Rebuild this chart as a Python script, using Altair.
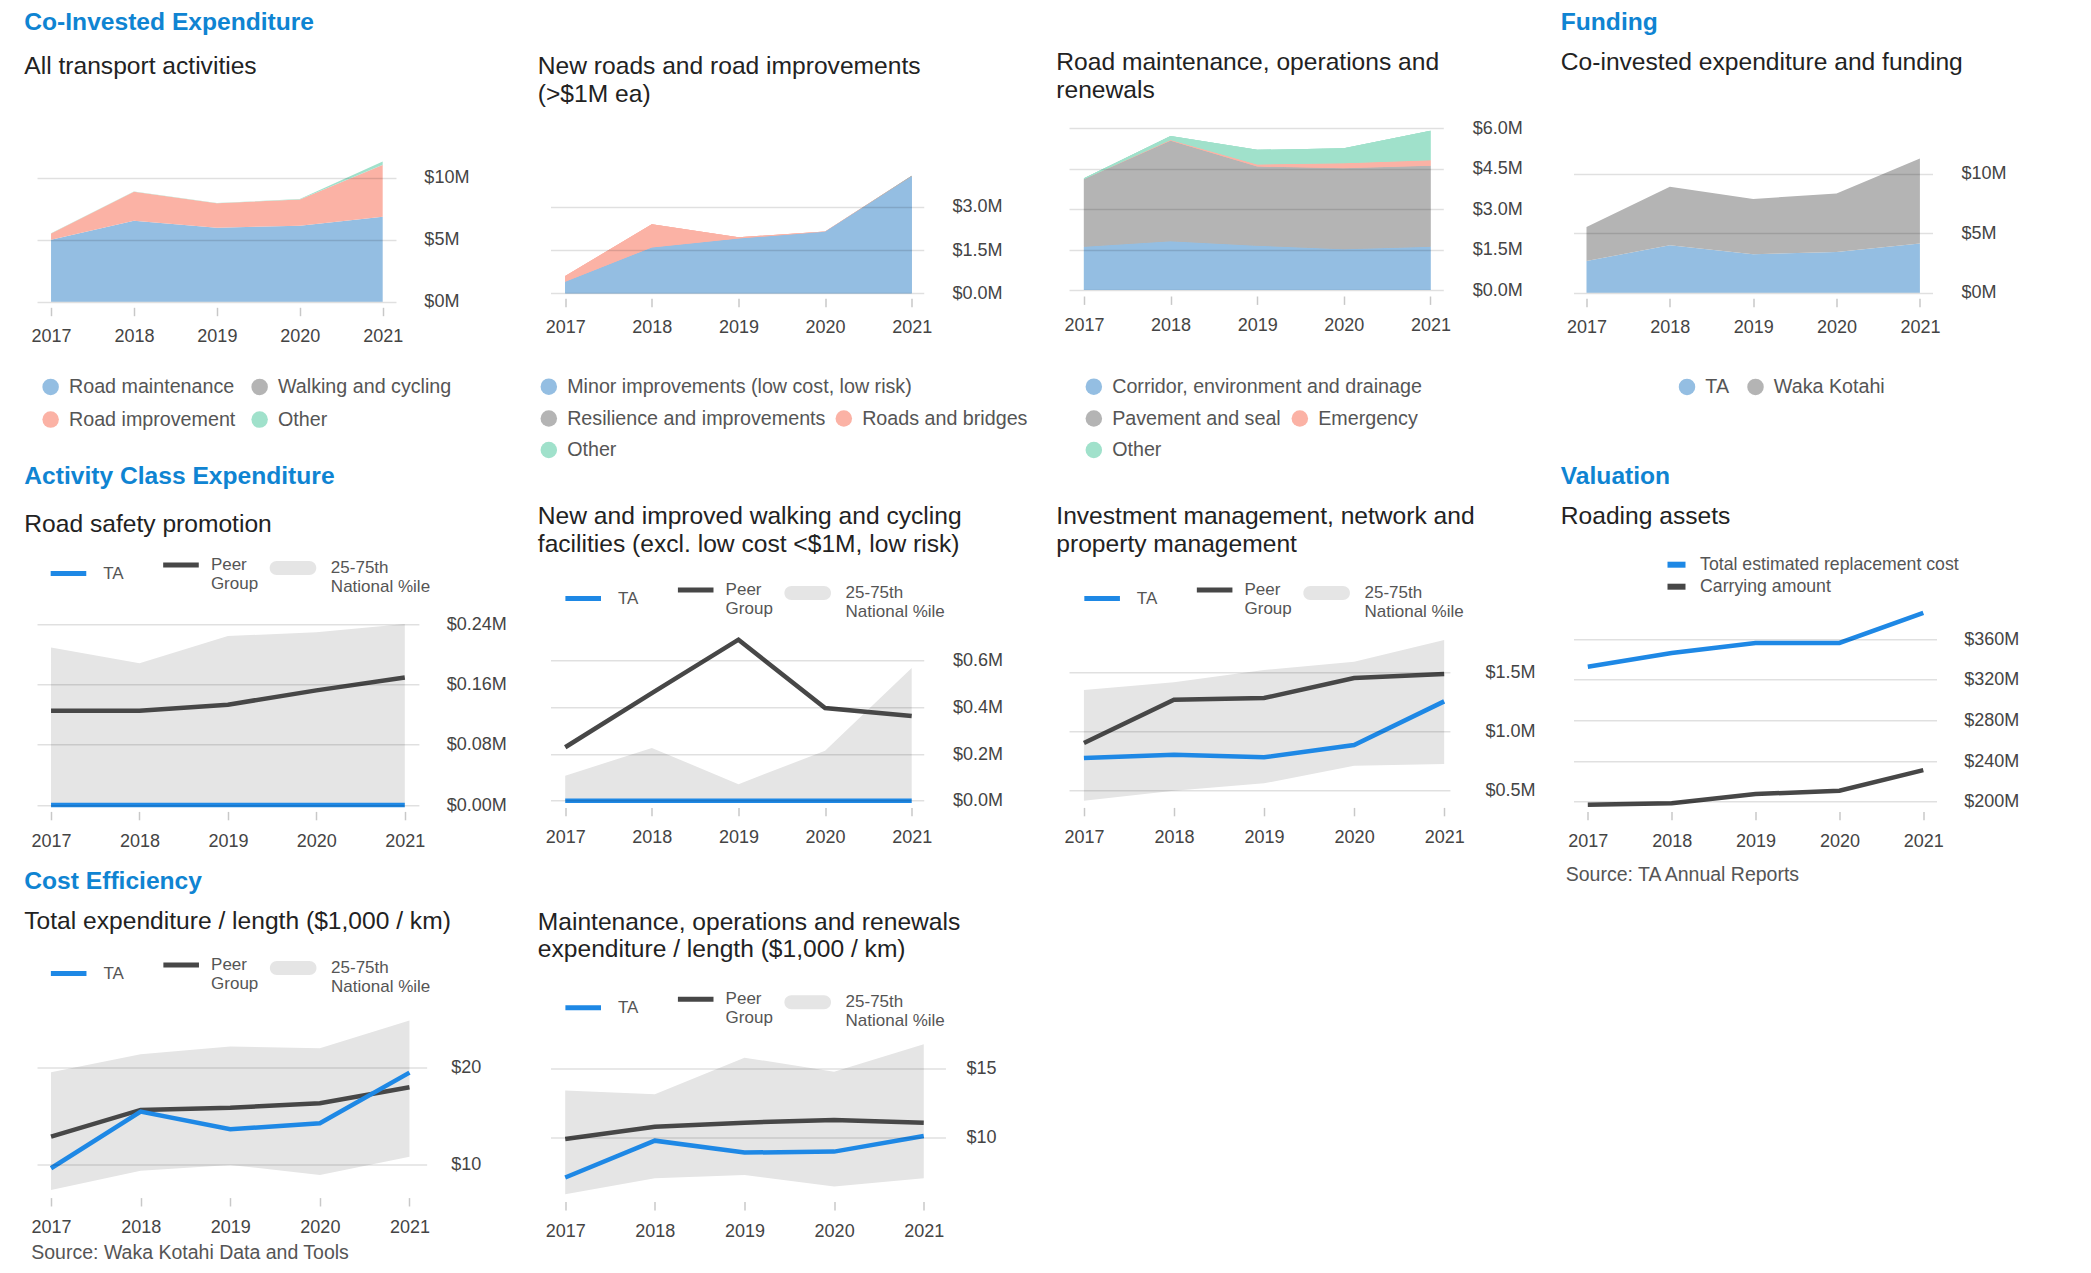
import math
import altair as alt
import pandas as pd

FONT = "Liberation Sans"
HEADER_BLUE = "#0f84d2"
TITLE_COLOR = "#222222"
TEXT_COLOR = "#444444"
LEGEND_TEXT = "#555555"
AREA_BLUE = "#94bee2"
AREA_SALMON = "#fbb2a5"
AREA_GRAY = "#b4b4b4"
AREA_TEAL = "#a0e1cb"
TA_BLUE = "#1e88e5"
PEER_GRAY = "#474747"
BAND_GRAY = "#e5e5e5"
PILL = "M-0.7,-0.3L0.7,-0.3A0.3,0.3,0,0,1,0.7,0.3L-0.7,0.3A0.3,0.3,0,0,1,-0.7,-0.3Z"

years = [2017, 2018, 2019, 2020, 2021]

# ---------------- data ($M unless noted) ----------------
# Co-Invested Expenditure: All transport activities
all_road_maintenance = [5.00, 6.53, 5.97, 6.13, 6.85]
all_road_improvement = [0.51, 2.34, 1.96, 2.12, 4.17]
all_walking_cycling = [0.0, 0.0, 0.0, 0.0, 0.02]
all_other = [0.01, 0.02, 0.02, 0.04, 0.27]

# New roads and road improvements (>$1M ea)
nr_minor = [0.40, 1.59, 1.90, 2.13, 4.05]
nr_resilience = [0.0, 0.0, 0.0, 0.0, 0.02]
nr_roads_bridges = [0.20, 0.80, 0.04, 0.01, 0.0]
nr_other = [0.0, 0.0, 0.0, 0.0, 0.0]

# Road maintenance, operations and renewals
rm_corridor = [1.60, 1.81, 1.64, 1.51, 1.60]
rm_pavement = [2.50, 3.72, 2.93, 3.00, 3.00]
rm_emergency = [0.00, 0.03, 0.08, 0.18, 0.21]
rm_other = [0.04, 0.14, 0.54, 0.56, 1.09]

# Funding
fund_ta = [2.66, 3.98, 3.22, 3.42, 4.12]
fund_waka = [2.86, 4.90, 4.65, 4.90, 7.14]

# Road safety promotion
rs_ta = [0.0, 0.0, 0.0, 0.0, 0.0]
rs_peer = [0.125, 0.125, 0.133, 0.152, 0.169]
rs_lo = [0.0, 0.0, 0.0, 0.0, 0.0]
rs_hi = [0.209, 0.188, 0.224, 0.229, 0.240]

# New and improved walking and cycling facilities
wc_ta = [0.0, 0.0, 0.0, 0.0, 0.0]
wc_peer = [0.229, 0.461, 0.690, 0.397, 0.363]
wc_lo = [0.0, 0.0, 0.0, 0.0, 0.0]
wc_hi = [0.107, 0.226, 0.071, 0.214, 0.569]

# Investment management, network and property management
im_ta = [0.776, 0.804, 0.782, 0.886, 1.255]
im_peer = [0.903, 1.269, 1.283, 1.452, 1.486]
im_lo = [0.415, 0.500, 0.562, 0.711, 0.725]
im_hi = [1.351, 1.416, 1.520, 1.590, 1.773]

# Roading assets
ra_replacement = [332.8, 346.2, 356.1, 356.1, 385.6]
ra_carrying = [197.0, 198.4, 207.5, 210.8, 231.1]

# Total expenditure / length ($1,000 / km)
te_ta = [9.59, 15.45, 13.62, 14.24, 19.48]
te_peer = [12.86, 15.62, 15.86, 16.31, 17.97]
te_lo = [7.34, 9.34, 9.93, 8.90, 10.79]
te_hi = [19.52, 21.38, 22.17, 22.00, 24.86]

# Maintenance, operations and renewals expenditure / length ($1,000 / km)
mo_ta = [7.12, 9.78, 8.92, 8.99, 10.12]
mo_peer = [9.90, 10.79, 11.08, 11.27, 11.08]
mo_lo = [5.91, 7.07, 7.31, 6.47, 7.07]
mo_hi = [13.39, 13.12, 15.77, 14.76, 16.73]

BAND_LABEL = "25-75th National %ile"

# ---------------- layout (page pixels) ----------------
LAY = {
    "p1": dict(L=38.23, W=359.0, a=14.04, b=345.69, T=8, B=307.3, ya=301.7, va=0, yb=177.7, vb=10, lx=425.1),
    "p2": dict(L=551.4, W=373.25, a=14.72, b=361.2, T=8, B=298.3, ya=293.3, va=0, yb=206.7, vb=3, lx=952.8),
    "p3": dict(L=1069.87, W=374.3, a=14.93, b=361.43, T=8, B=296, ya=290, va=0, yb=128, vb=6, lx=1473.1),
    "p4": dict(L=1574.3, W=359.0, a=13.0, b=346.4, T=8, B=298.3, ya=292.7, va=0, yb=173.5, vb=10, lx=1961.7),
    "p5": dict(L=38.23, W=381.9, a=14.04, b=367.79, T=441.6, B=810.7, ya=804.3, va=0, yb=623.3, vb=0.24, lx=447.5),
    "p6": dict(L=551.4, W=373.25, a=14.72, b=361.2, T=441.6, B=806.7, ya=800, va=0, yb=660, vb=0.6, lx=953.4),
    "p7": dict(L=1069.87, W=380.93, a=14.93, b=375.18, T=441.6, B=806.7, ya=790, va=0.5, yb=671.7, vb=1.5, lx=1485.9),
    "p8": dict(L=1574.3, W=363.0, a=14.3, b=349.8, T=441.6, B=810.7, ya=801, va=200, yb=638.3, vb=360, lx=1964.6),
    "p9": dict(L=38.23, W=389.67, a=14.04, b=372.47, T=945, B=1196, ya=1162.7, va=10, yb=1066, vb=20, lx=452.0),
    "p10": dict(L=551.4, W=394.97, a=14.72, b=373.25, T=945, B=1200, ya=1136, va=10, yb=1066.7, vb=15, lx=966.8),
}


def scales(lay):
    step = (lay["b"] - lay["a"]) / 4.0
    xmin = 2017 - lay["a"] / step
    xmax = xmin + lay["W"] / step
    ppu = (lay["ya"] - lay["yb"]) / (lay["vb"] - lay["va"])
    ymax = lay["va"] + (lay["ya"] - lay["T"]) / ppu
    ymin = lay["va"] - (lay["B"] - lay["ya"]) / ppu
    return [xmin, xmax], [ymin, ymax], lay["B"] - lay["T"]


def make_title(header, subs, header_cy, sub_cy, T):
    fs = 24.6
    lh = 27.5
    y_g = header_cy - 0.432 * fs
    pad = sub_cy - 0.432 * fs - fs - y_g
    ht = fs + pad + fs + (len(subs) - 1) * lh
    offset = T - ht - y_g
    return alt.TitleParams(
        text=header, subtitle=subs, anchor="start", frame="group", orient="top",
        baseline="top", dx=-12.7, offset=offset, font=FONT, fontSize=fs,
        fontWeight="bold", color=HEADER_BLUE, subtitleFont=FONT, subtitleFontSize=fs,
        subtitleColor=TITLE_COLOR, subtitleLineHeight=lh, subtitlePadding=pad,
        subtitleFontWeight="normal",
    )


def x_axis(source=None, sx=0, sy=0):
    kw = dict(values=years, format="d", grid=False, domain=False, ticks=True,
              tickColor="#c8c8c8", tickWidth=1.5, tickSize=8.4,
              labelFontSize=18, labelColor=TEXT_COLOR, labelFont=FONT, labelPadding=12.2,
              labelFlush=False, labelOverlap=False)
    if source:
        kw.update(title=source, titleAnchor="start", titleAlign="left", titleBaseline="top",
                  titleX=sx, titleY=sy, titleFontSize=19.5, titleFontWeight="normal",
                  titleColor=LEGEND_TEXT, titleFont=FONT)
    else:
        kw["title"] = None
    return alt.Axis(**kw)


def y_axis(lay, values, fmt, prefix="$", suffix="M"):
    pad = lay["lx"] - (lay["L"] + lay["W"])
    return alt.Axis(orient="right", values=values,
                    labelExpr="'" + prefix + "' + format(datum.value, '" + fmt + "') + '" + suffix + "'",
                    grid=True, gridColor="#000000", gridOpacity=0.12, gridWidth=1.5,
                    domain=False, ticks=False, tickSize=0, labelPadding=pad, labelFontSize=18,
                    labelColor=TEXT_COLOR, labelFont=FONT, labelFlush=False, labelOverlap=False,
                    title=None, zindex=1)


AREA_SYM = 272
AREA_FS = 19.7


def area_legend(lay, values, cx, cy, cols, col_pad):
    eh = max(math.sqrt(AREA_SYM), AREA_FS)
    return alt.Legend(title=None, orient="none", values=values,
                      legendX=cx - math.sqrt(AREA_SYM) / 2 - lay["L"],
                      legendY=cy - eh / 2 - lay["T"],
                      direction="horizontal", columns=cols, gridAlign="each",
                      symbolType="circle", symbolSize=AREA_SYM, symbolStrokeWidth=0, symbolOpacity=1,
                      labelFontSize=AREA_FS, labelColor=LEGEND_TEXT, labelFont=FONT, labelOffset=8.5,
                      columnPadding=col_pad, rowPadding=31.6 - eh, padding=0, labelLimit=500)


def area_panel(key, names, values, colors, legends, yvals, yfmt, title):
    """legends: list of (values, cx, cy, columns, columnPadding); first drawn with the visible layer."""
    lay = LAY[key]
    xdom, ydom, h = scales(lay)
    rows = []
    for k, (n, vals) in enumerate(zip(names, values)):
        for yr, v in zip(years, vals):
            rows.append(dict(year=yr, series=n, value=v, ord=k))
    df = pd.DataFrame(rows)
    xenc = alt.X("year:Q", scale=alt.Scale(domain=xdom, nice=False, zero=False), axis=x_axis())
    yenc = alt.Y("value:Q", stack="zero", scale=alt.Scale(domain=ydom, nice=False, zero=False),
                 axis=y_axis(lay, yvals, yfmt))

    def layer_for(spec):
        vals, cx, cy, cols, cpad = spec
        return alt.Chart(df).mark_area(opacity=1).encode(
            x=xenc, y=yenc,
            color=alt.Color("series:N", scale=alt.Scale(domain=names, range=colors),
                            legend=area_legend(lay, vals, cx, cy, cols, cpad)),
            order=alt.Order("ord:Q"),
        )

    if len(legends) == 1:
        ch = layer_for(legends[0])
    else:
        layers = [layer_for(s) for s in legends[1:]] + [layer_for(legends[0])]
        ch = alt.layer(*layers).resolve_scale(color="independent")
    return ch.properties(width=lay["W"], height=h, title=title)


LINE_SIZE = 1267
LINE_SW = 5
PILL_SIZE = 2172
LEG_FS = 17
MULTI_CENTER = 28.9


def single_legend(lay, cx, cy, label_x, kind, label_expr=None, fs=LEG_FS, size=LINE_SIZE, sw=LINE_SW):
    if kind == "pill":
        off = math.sqrt(PILL_SIZE)
        kw = dict(symbolType=PILL, symbolSize=PILL_SIZE, symbolStrokeWidth=0, symbolOpacity=1)
    else:
        off = math.sqrt(size) + sw
        kw = dict(symbolType="stroke", symbolSize=size, symbolStrokeWidth=sw, symbolOpacity=1)
    if label_expr:
        center = MULTI_CENTER
        kw["labelExpr"] = label_expr
    else:
        center = 0.5 * max(off, fs)
    return alt.Legend(title=None, orient="none",
                      legendX=cx - off / 2 - lay["L"], legendY=cy - center - lay["T"],
                      direction="horizontal", labelFontSize=fs, labelColor=LEGEND_TEXT,
                      labelFont=FONT, labelOffset=label_x - (cx + off / 2), padding=0,
                      labelLimit=500, **kw)


def band_panel(key, ta, peer, lo, hi, ta_c, yvals, yfmt, prefix, suffix, title,
               source=None, src_pos=None):
    lay = LAY[key]
    xdom, ydom, h = scales(lay)
    cx, cy = ta_c
    df_ta = pd.DataFrame(dict(year=years, value=ta, series=["TA"] * len(years)))
    df_peer = pd.DataFrame(dict(year=years, value=peer, series=["Peer Group"] * len(years)))
    df_band = pd.DataFrame(dict(year=years, lo=lo, hi=hi, series=[BAND_LABEL] * len(years)))
    if source:
        xa = x_axis(source, src_pos[0] - lay["L"], src_pos[1] - lay["B"])
    else:
        xa = x_axis()
    xenc = alt.X("year:Q", scale=alt.Scale(domain=xdom, nice=False, zero=False), axis=xa)
    yscale = alt.Scale(domain=ydom, nice=False, zero=False)
    ya = y_axis(lay, yvals, yfmt, prefix, suffix)
    band = alt.Chart(df_band).mark_area(opacity=1).encode(
        x=xenc, y=alt.Y("lo:Q", scale=yscale, axis=ya), y2="hi:Q",
        color=alt.Color("series:N", scale=alt.Scale(domain=[BAND_LABEL], range=[BAND_GRAY]),
                        legend=single_legend(lay, cx + 224.5, cy, cx + 262.2, "pill",
                                             "['25-75th', 'National %ile']")),
    )
    peer_line = alt.Chart(df_peer).mark_line(strokeWidth=4.5).encode(
        x=xenc, y=alt.Y("value:Q", scale=yscale, axis=ya),
        color=alt.Color("series:N", scale=alt.Scale(domain=["Peer Group"], range=[PEER_GRAY]),
                        legend=single_legend(lay, cx + 112.5, cy, cx + 142.2, "line",
                                             "['Peer', 'Group']")),
    )
    ta_line = alt.Chart(df_ta).mark_line(strokeWidth=4.5).encode(
        x=xenc, y=alt.Y("value:Q", scale=yscale, axis=ya),
        color=alt.Color("series:N", scale=alt.Scale(domain=["TA"], range=[TA_BLUE]),
                        legend=single_legend(lay, cx, cy, cx + 34.5, "line")),
    )
    return alt.layer(band, peer_line, ta_line).resolve_scale(color="independent").properties(
        width=lay["W"], height=h, title=title)


def assets_panel(key, title, source, src_pos):
    lay = LAY[key]
    xdom, ydom, h = scales(lay)
    xenc = alt.X("year:Q", scale=alt.Scale(domain=xdom, nice=False, zero=False),
                 axis=x_axis(source, src_pos[0] - lay["L"], src_pos[1] - lay["B"]))
    yscale = alt.Scale(domain=ydom, nice=False, zero=False)
    ya = y_axis(lay, [200, 240, 280, 320, 360], "d")
    layers = []
    for name, vals, col, cy in (("Total estimated replacement cost", ra_replacement, TA_BLUE, 564),
                                ("Carrying amount", ra_carrying, PEER_GRAY, 586)):
        df = pd.DataFrame(dict(year=years, value=vals, series=[name] * len(years)))
        layers.append(alt.Chart(df).mark_line(strokeWidth=4.5).encode(
            x=xenc, y=alt.Y("value:Q", scale=yscale, axis=ya),
            color=alt.Color("series:N", scale=alt.Scale(domain=[name], range=[col]),
                            legend=single_legend(lay, 1677.3, cy, 1700.9, "line", None,
                                                 fs=17.7, size=324, sw=6)),
        ))
    return alt.layer(*layers[::-1]).resolve_scale(color="independent").properties(
        width=lay["W"], height=h, title=title)


R1H, R2H, R3H = 21.5, 475, 881.7

p1 = area_panel(
    "p1",
    ["Road maintenance", "Road improvement", "Walking and cycling", "Other"],
    [all_road_maintenance, all_road_improvement, all_walking_cycling, all_other],
    [AREA_BLUE, AREA_SALMON, AREA_GRAY, AREA_TEAL],
    [(["Road maintenance", "Walking and cycling", "Road improvement", "Other"], 50.25, 386.7, 2, 14)],
    [0, 5, 10], "d",
    make_title("Co-Invested Expenditure", ["All transport activities"], R1H, 66, LAY["p1"]["T"]),
)
p2 = area_panel(
    "p2",
    ["Minor improvements (low cost, low risk)", "Resilience and improvements", "Roads and bridges", "Other"],
    [nr_minor, nr_resilience, nr_roads_bridges, nr_other],
    [AREA_BLUE, AREA_GRAY, AREA_SALMON, AREA_TEAL],
    [(["Minor improvements (low cost, low risk)"], 548.1, 386.7, 1, 8),
     (["Resilience and improvements", "Roads and bridges"], 548.1, 418.3, 2, 8),
     (["Other"], 548.1, 450.0, 1, 8)],
    [0, 1.5, 3.0], ".1f",
    make_title(" ", ["New roads and road improvements", "(>$1M ea)"], R1H, 66, LAY["p2"]["T"]),
)
p3 = area_panel(
    "p3",
    ["Corridor, environment and drainage", "Pavement and seal", "Emergency", "Other"],
    [rm_corridor, rm_pavement, rm_emergency, rm_other],
    [AREA_BLUE, AREA_GRAY, AREA_SALMON, AREA_TEAL],
    [(["Corridor, environment and drainage"], 1093.1, 386.7, 1, 9),
     (["Pavement and seal", "Emergency"], 1093.1, 418.3, 2, 9),
     (["Other"], 1093.1, 450.0, 1, 9)],
    [0, 1.5, 3.0, 4.5, 6.0], ".1f",
    make_title(" ", ["Road maintenance, operations and", "renewals"], R1H, 62, LAY["p3"]["T"]),
)
p4 = area_panel(
    "p4",
    ["TA", "Waka Kotahi"],
    [fund_ta, fund_waka],
    [AREA_BLUE, AREA_GRAY],
    [(["TA", "Waka Kotahi"], 1686.2, 386.7, 2, 16.5)],
    [0, 5, 10], "d",
    make_title("Funding", ["Co-invested expenditure and funding"], R1H, 62, LAY["p4"]["T"]),
)
p5 = band_panel(
    "p5", rs_ta, rs_peer, rs_lo, rs_hi, (69.5, 572.7),
    [0, 0.08, 0.16, 0.24], ".2f", "$", "M",
    make_title("Activity Class Expenditure", ["Road safety promotion"], R2H, 523, LAY["p5"]["T"]),
)
p6 = band_panel(
    "p6", wc_ta, wc_peer, wc_lo, wc_hi, (583.9, 597.7),
    [0, 0.2, 0.4, 0.6], ".1f", "$", "M",
    make_title(" ", ["New and improved walking and cycling", "facilities (excl. low cost <$1M, low risk)"], R2H, 515, LAY["p6"]["T"]),
)
p7 = band_panel(
    "p7", im_ta, im_peer, im_lo, im_hi, (1102.8, 597.7),
    [0.5, 1.0, 1.5], ".1f", "$", "M",
    make_title(" ", ["Investment management, network and", "property management"], R2H, 515, LAY["p7"]["T"]),
)
p8 = assets_panel(
    "p8",
    make_title("Valuation", ["Roading assets"], R2H, 515, LAY["p8"]["T"]),
    "Source: TA Annual Reports", (1566, 864.8),
)
p9 = band_panel(
    "p9", te_ta, te_peer, te_lo, te_hi, (69.7, 971.7),
    [10, 20], "d", "$", "",
    make_title("Cost Efficiency", ["Total expenditure / length ($1,000 / km)"], R3H, 921.7, LAY["p9"]["T"]),
    source="Source: Waka Kotahi Data and Tools", src_pos=(32, 1241.8),
)
p10 = band_panel(
    "p10", mo_ta, mo_peer, mo_lo, mo_hi, (583.9, 1006),
    [10, 15], "d", "$", "",
    make_title(" ", ["Maintenance, operations and renewals", "expenditure / length ($1,000 / km)"], R3H, 920, LAY["p10"]["T"]),
)

chart = alt.concat(
    p1, p2, p3, p4, p5, p6, p7, p8, p9, p10,
    columns=4, spacing={"row": 134.3, "column": 123.5}, bounds="flush", align="each",
).resolve_scale(
    x="independent", y="independent", color="independent"
).properties(
    padding={"left": 16, "top": 0, "right": 5, "bottom": 5}
).configure(
    font=FONT
).configure_view(
    strokeWidth=0
)

chart.save("out.html", embed_options={"renderer": "svg", "actions": False})
